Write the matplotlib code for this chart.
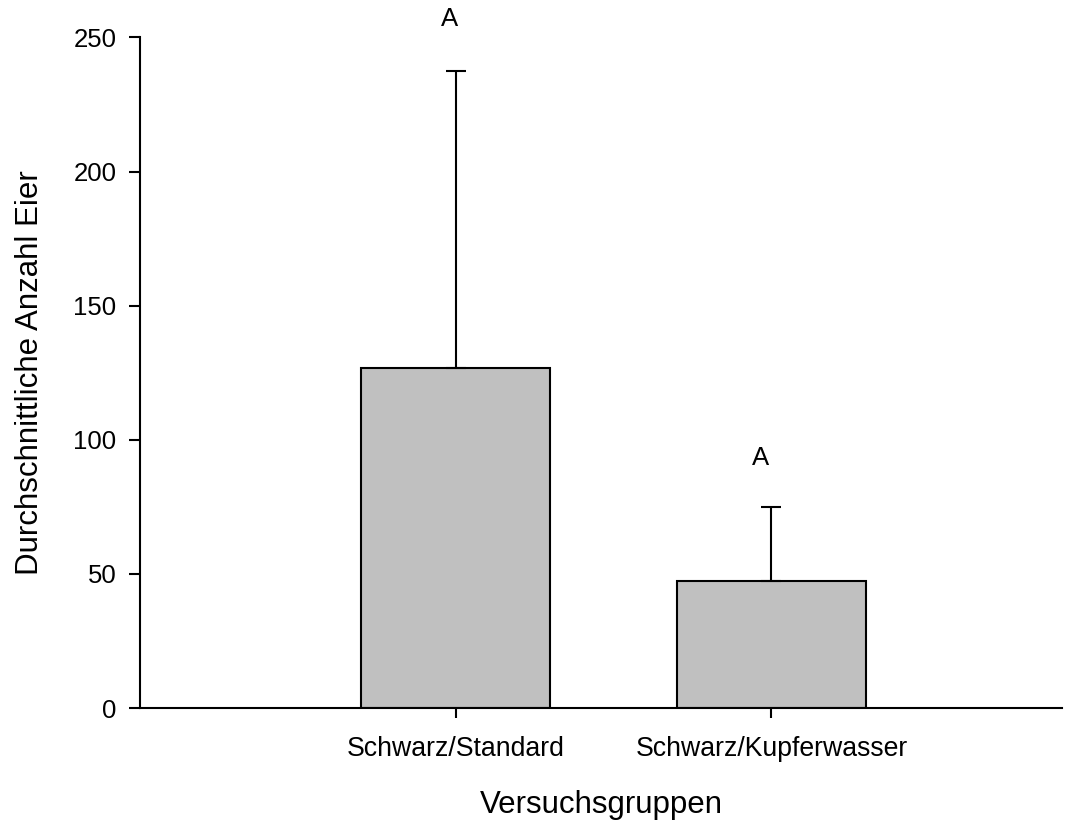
import numpy as np
import matplotlib.pyplot as plt

plt.rcParams["font.family"] = ["Liberation Sans", "DejaVu Sans"]

groups = ["Schwarz/Standard", "Schwarz/Kupferwasser"]
means = [126.8, 47.5]
errors = [110.7, 27.6]
letters = ["A", "A"]
letter_x = [0.982, 1.966]
letter_y = [256.7, 93.1]

pos = np.arange(1, len(groups) + 1)

fig = plt.figure(figsize=(10.76, 8.32), dpi=100)
ax = fig.add_axes([0.130, 0.149, 0.857, 0.806])

ax.bar(pos, means, width=0.6, color="#c0c0c0", edgecolor="black", linewidth=1.5, zorder=2)
ax.errorbar(pos, means, yerr=[np.zeros(len(means)), errors], fmt="none",
            ecolor="black", elinewidth=1.5, capsize=7, capthick=1.5, zorder=3)

for x, y, s in zip(letter_x, letter_y, letters):
    ax.text(x, y, s, ha="center", va="center", fontsize=18.5)

ax.set_xlim(0, 2.92)
ax.set_ylim(0, 250)
ax.set_yticks([0, 50, 100, 150, 200, 250])
ax.set_xticks(pos)
ax.set_xticklabels(groups, fontsize=19.2)
ax.tick_params(axis="y", labelsize=18.5, length=8, width=1.5, pad=9)
ax.tick_params(axis="x", length=7, width=1.5, pad=13)

for side in ["top", "right"]:
    ax.spines[side].set_visible(False)
for side in ["left", "bottom"]:
    ax.spines[side].set_linewidth(1.5)

ax.set_ylabel("Durchschnittliche Anzahl Eier", fontsize=22.5, labelpad=20)
ax.set_xlabel("Versuchsgruppen", fontsize=22.5, labelpad=20)

plt.savefig("out.png", dpi=100)
